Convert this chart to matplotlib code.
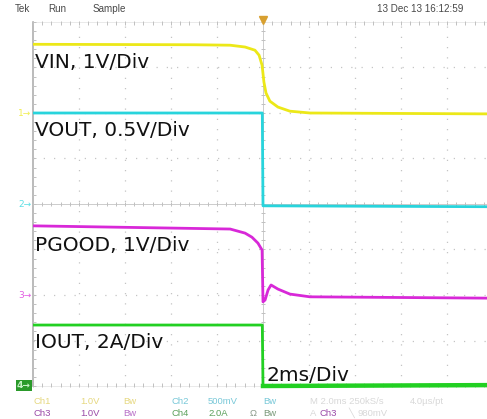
"""Power-down scope capture: VIN, VOUT, PGOOD and IOUT vs time (Tek screen style)."""

import numpy as np
import matplotlib
matplotlib.use("Agg")
import matplotlib.pyplot as plt
from matplotlib import font_manager

W, H = 487, 419

# time base: 2 ms/div, trigger at t = 0
ms_per_div = 2.0

# channel scale (unit/div) and screen offset (div)
ch_scale = {"VIN": 1.0, "VOUT": 0.5, "PGOOD": 1.0, "IOUT": 2.0}
ch_offset = {"VIN": 2.0, "VOUT": 0.0, "PGOOD": -2.0, "IOUT": -4.0}

# traces (t in ms, values in V / A)
vin_t = [-10, -3.0, -1.43, -0.78, -0.35, -0.17, -0.04, 0.04, 0.13, 0.30, 0.65, 1.17, 2.04, 10]
vin_v = [1.51, 1.50, 1.49, 1.45, 1.38, 1.27, 1.05, 0.68, 0.44, 0.26, 0.13, 0.04, 0.0, -0.02]

vout_t = [-10, -0.03, 0.0, 10]
vout_v = [1.0, 1.0, -0.02, -0.03]

pgood_t = [-10, -1.43, -0.78, -0.48, -0.22, -0.09, -0.04, 0.0, 0.09, 0.22, 0.35, 0.65, 1.17, 2.04, 10]
pgood_v = [1.52, 1.45, 1.36, 1.27, 1.14, 1.03, 0.99, -0.15, -0.11, 0.11, 0.22, 0.13, 0.02, -0.04, -0.07]

iout_t = [-10, -0.03, 0.0, 10]
iout_a = [2.68, 2.68, 0.0, 0.04]

labels = ["VIN, 1V/Div", "VOUT, 0.5V/Div", "PGOOD, 1V/Div", "IOUT, 2A/Div"]
label_y = [63, 131, 245, 342]

colors = {"VIN": "#ece818", "VOUT": "#28d4dc", "PGOOD": "#d828d8", "IOUT": "#22d022"}


def to_div(name, vals):
    return np.asarray(vals) / ch_scale[name] + ch_offset[name]


# narrow font for the status text, if the system has one
installed = {f.name for f in font_manager.fontManager.ttflist}
if "Liberation Sans Narrow" in installed:
    narrow, small = "Liberation Sans Narrow", 7.5
else:
    narrow, small = "Liberation Sans", 6.8

fig = plt.figure(figsize=(W / 100, H / 100), dpi=100)
fig.patch.set_facecolor("white")
ax = fig.add_axes([33 / W, (H - 386) / H, 460 / W, 364 / H])
ax.set_xlim(-5, 5)
ax.set_ylim(-4, 4)
ax.set_facecolor("white")
for s in ax.spines.values():
    s.set_visible(False)
ax.set_xticks([])
ax.set_yticks([])

# graticule: dotted division lines
grid_c = "#c4c4c4"
for x in np.arange(-4, 5):
    if x != 0:
        ax.axvline(x, color=grid_c, lw=0.9, ls=(0, (1, 7.2)), zorder=0)
for y in np.arange(-3, 4):
    if y != 0:
        ax.axhline(y, color=grid_c, lw=0.9, ls=(0, (1, 7.2)), zorder=0)

# centre crosshair and frame with minor ticks
ax.axvline(0, color="#cccccc", lw=0.7, zorder=0)
ax.axhline(0, color="#cccccc", lw=0.7, zorder=0)
ax.axvline(-5, color="#a8a8a8", lw=1.1, zorder=1, clip_on=False)
ax.axhline(4, color="#e2e2e2", lw=0.5, zorder=0, clip_on=False)
ax.axhline(-4, color="#e2e2e2", lw=0.5, zorder=0, clip_on=False)
minor_x = np.arange(-5, 5.01, 0.2)
minor_y = np.arange(-4, 4.01, 0.2)
tk = dict(color="#c0c0c0", lw=0, markersize=3, markeredgewidth=0.7, clip_on=False, zorder=1)
ax.plot(minor_x, np.zeros_like(minor_x), marker="|", **tk)
ax.plot(np.zeros_like(minor_y), minor_y, marker="_", **tk)
ax.plot(np.full_like(minor_y, -4.985), minor_y, marker="_", **tk)
ax.plot(minor_x, np.full_like(minor_x, 3.98), marker="|", **tk)
ax.plot(minor_x, np.full_like(minor_x, -3.98), marker="|", **tk)

# traces
ax.plot(np.asarray(vin_t) / ms_per_div, to_div("VIN", vin_v), color=colors["VIN"], lw=2.0, zorder=3)
ax.plot(np.asarray(vout_t) / ms_per_div, to_div("VOUT", vout_v), color=colors["VOUT"], lw=2.0, zorder=3)
ax.plot(np.asarray(pgood_t) / ms_per_div, to_div("PGOOD", pgood_v), color=colors["PGOOD"], lw=2.0, zorder=3)
ax.plot(np.asarray(iout_t[:3]) / ms_per_div, to_div("IOUT", iout_a[:3]), color=colors["IOUT"], lw=2.0, zorder=3)
ax.plot(np.asarray(iout_t[2:]) / ms_per_div, to_div("IOUT", iout_a[2:]), color=colors["IOUT"], lw=3.2,
        zorder=3, clip_on=False)

# trigger position marker
ax.plot([0], [4.04], marker="v", color="#d8a030", markersize=6, clip_on=False, zorder=5)

# channel ground markers on the left edge
for name, num in [("VIN", "1"), ("VOUT", "2"), ("PGOOD", "3")]:
    y = 1 - (386 - (ch_offset[name] + 4) * 364 / 8) / H
    fig.text(18 / W, y, num + "\u2192", color=colors[name], fontsize=6.5, va="center", ha="left", alpha=0.75)
fig.text(17 / W, 1 - 385.5 / H, "4\u2192", color="#c8f0c8", fontsize=6.5, va="center", ha="left",
         fontweight="bold", bbox=dict(boxstyle="square,pad=0.12", fc="#2a9a2a", ec="none"))

# channel labels
for txt, y in zip(labels, label_y):
    fig.text(35 / W, 1 - y / H, txt, fontsize=14.5, va="center", ha="left", color="#111111")
fig.text(266 / W, 1 - 375 / H, "2ms/Div", fontsize=14.5, va="center", ha="left", color="#111111")

# top status bar
top = dict(fontsize=small + 0.3, color="#484848", va="center", ha="left", family=[narrow, "DejaVu Sans"])
fig.text(15 / W, 1 - 9 / H, "Tek", **top)
fig.text(48 / W, 1 - 9 / H, "Run", **top)
fig.text(93 / W, 1 - 9 / H, "Sample", **top)
fig.text(463 / W, 1 - 9 / H, "13 Dec 13 16:12:59", **dict(top, ha="right"))

# bottom readout
row1, row2 = 1 - 401 / H, 1 - 413 / H
bot = dict(fontsize=small, va="center", ha="left", family=[narrow, "DejaVu Sans"])
fig.text(33 / W, row1, "Ch1", color="#e6d880", **bot)
fig.text(80 / W, row1, "1.0V", color="#e6d880", **bot)
fig.text(123 / W, row1, "Bw", color="#e6d880", **bot)
fig.text(172 / W, row1, "Ch2", color="#78c8d8", **bot)
fig.text(208 / W, row1, "500mV", color="#78c8d8", **bot)
fig.text(263 / W, row1, "Bw", color="#78c8d8", **bot)
fig.text(310 / W, row1, "M 2.0ms 250kS/s", color="#d8d8d8", **bot)
fig.text(410 / W, row1, "4.0\u00b5s/pt", color="#d8d8d8", **bot)
fig.text(33 / W, row2, "Ch3", color="#9a4aa8", **bot)
fig.text(80 / W, row2, "1.0V", color="#9a4aa8", **bot)
fig.text(123 / W, row2, "Bw", color="#b870c8", **bot)
fig.text(172 / W, row2, "Ch4", color="#5aa05a", **bot)
fig.text(208 / W, row2, "2.0A", color="#5aa05a", **bot)
fig.text(250 / W, row2, "\u03a9", color="#8a9a8a", **bot)
fig.text(263 / W, row2, "Bw", color="#7a9a7a", **bot)
fig.text(310 / W, row2, "A", color="#d8d8d8", **bot)
fig.text(320 / W, row2, "Ch3", color="#9a4aa8", **bot)
fig.text(348 / W, row2, "\u2572", color="#d8d8d8", **bot)
fig.text(357 / W, row2, "980mV", color="#d8d8d8", **bot)

fig.savefig("out.png", dpi=100, facecolor="white")
